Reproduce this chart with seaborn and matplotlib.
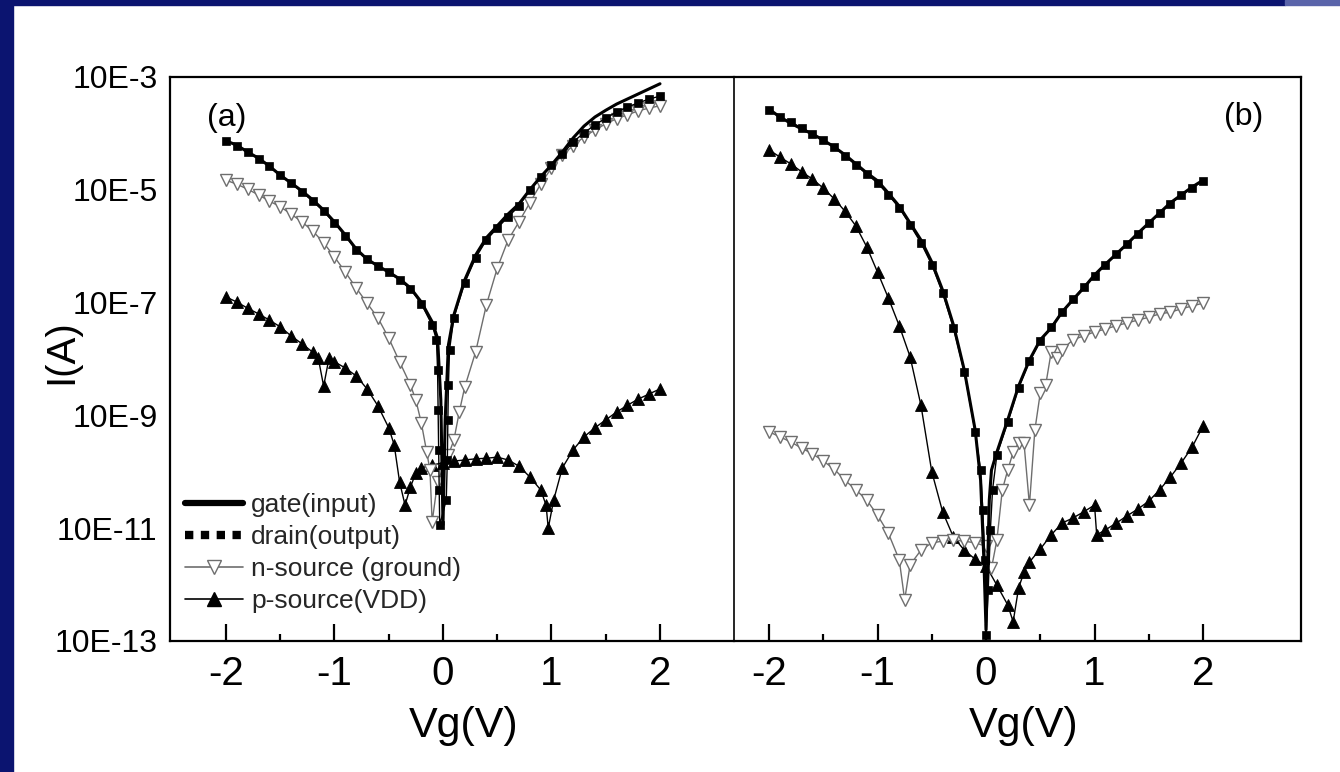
import numpy as np
import matplotlib
matplotlib.use("Agg")
import matplotlib.pyplot as plt
from matplotlib.lines import Line2D
from matplotlib.patches import Rectangle
from matplotlib.ticker import FixedLocator, FuncFormatter, NullLocator
import seaborn as sns

# ---------------- panel (a): gate sweep, currents as log10(I/A) ----------------
vg_gate_a = [-2.0, -1.9, -1.8, -1.7, -1.6, -1.5, -1.4, -1.3, -1.2, -1.1, -1.0, -0.9, -0.8, -0.7,
             -0.6, -0.5, -0.4, -0.3, -0.2, -0.1, -0.05, -0.02, 0.0, 0.02, 0.05, 0.1, 0.2, 0.3,
             0.4, 0.5, 0.6, 0.7, 0.8, 0.9, 1.0, 1.1, 1.2, 1.3, 1.4, 1.5, 1.6, 1.7, 1.8, 1.9, 2.0]
log_gate_a = [-4.13, -4.21, -4.33, -4.44, -4.58, -4.74, -4.88, -5.02, -5.18, -5.36, -5.57, -5.80,
              -6.05, -6.23, -6.35, -6.46, -6.58, -6.74, -6.99, -7.34, -7.63, -8.73, -10.94, -9.08,
              -7.75, -7.22, -6.60, -6.16, -5.85, -5.64, -5.43, -5.25, -5.00, -4.77, -4.56, -4.33,
              -4.08, -3.87, -3.71, -3.59, -3.48, -3.39, -3.30, -3.21, -3.12]

vg_drain_a = [-2.0, -1.9, -1.8, -1.7, -1.6, -1.5, -1.4, -1.3, -1.2, -1.1, -1.0, -0.9, -0.8, -0.7,
              -0.6, -0.5, -0.4, -0.3, -0.2, -0.1, -0.06, -0.05, -0.045, -0.04, -0.035, -0.03,
              0.03, 0.04, 0.045, 0.05, 0.06, 0.1, 0.2, 0.3, 0.4, 0.5, 0.6, 0.7, 0.8, 0.9, 1.0,
              1.1, 1.2, 1.3, 1.4, 1.5, 1.6, 1.7, 1.8, 1.9, 2.0]
log_drain_a = [-4.13, -4.22, -4.33, -4.45, -4.58, -4.74, -4.88, -5.04, -5.20, -5.38, -5.59, -5.82,
               -6.07, -6.23, -6.35, -6.46, -6.60, -6.76, -7.02, -7.40, -7.66, -8.20, -8.90, -9.61,
               -10.32, -10.94, -10.50, -9.79, -9.08, -8.46, -7.84, -7.27, -6.65, -6.21, -5.89,
               -5.68, -5.48, -5.29, -5.00, -4.77, -4.56, -4.37, -4.15, -3.99, -3.85, -3.73, -3.62,
               -3.53, -3.46, -3.39, -3.34]

vg_nsrc_a = [-2.0, -1.9, -1.8, -1.7, -1.6, -1.5, -1.4, -1.3, -1.2, -1.1, -1.0, -0.9, -0.8, -0.7,
             -0.6, -0.5, -0.4, -0.3, -0.25, -0.2, -0.15, -0.12, -0.1, -0.05, 0.05, 0.1, 0.15,
             0.2, 0.3, 0.4, 0.5, 0.6, 0.7, 0.8, 0.9, 1.0, 1.1, 1.2, 1.3, 1.4, 1.5, 1.6, 1.7,
             1.8, 1.9, 2.0]
log_nsrc_a = [-4.83, -4.90, -4.99, -5.09, -5.20, -5.30, -5.43, -5.57, -5.73, -5.94, -6.19, -6.46,
              -6.74, -7.01, -7.27, -7.63, -8.05, -8.46, -8.73, -9.13, -9.65, -9.97, -10.89,
              -10.18, -9.70, -9.44, -8.94, -8.50, -7.88, -7.04, -6.39, -5.89, -5.57, -5.23,
              -4.90, -4.61, -4.38, -4.22, -4.06, -3.94, -3.83, -3.74, -3.67, -3.60, -3.55, -3.51]

vg_psrc_a = [-2.0, -1.9, -1.8, -1.7, -1.6, -1.5, -1.4, -1.3, -1.2, -1.15, -1.1, -1.05, -1.0, -0.9,
             -0.8, -0.7, -0.6, -0.5, -0.45, -0.4, -0.35, -0.3, -0.25, -0.2, -0.1, 0.0, 0.1, 0.2,
             0.3, 0.4, 0.5, 0.6, 0.7, 0.8, 0.9, 0.95, 0.97, 1.02, 1.1, 1.2, 1.3, 1.4, 1.5, 1.6,
             1.7, 1.8, 1.9, 2.0]
log_psrc_a = [-6.90, -6.99, -7.10, -7.20, -7.31, -7.43, -7.59, -7.73, -7.88, -7.98, -8.48, -7.98,
              -8.05, -8.16, -8.30, -8.53, -8.83, -9.22, -9.52, -10.18, -10.59, -10.27, -10.02,
              -9.93, -9.88, -9.84, -9.81, -9.79, -9.77, -9.76, -9.74, -9.79, -9.90, -10.09,
              -10.32, -10.59, -11.00, -10.50, -9.93, -9.61, -9.38, -9.22, -9.08, -8.94, -8.82,
              -8.71, -8.62, -8.53]

# ---------------- panel (b) ----------------
vg_gate_b = [-2.0, -1.9, -1.8, -1.7, -1.6, -1.5, -1.4, -1.3, -1.2, -1.1, -1.0, -0.9, -0.8, -0.7,
             -0.6, -0.5, -0.4, -0.3, -0.2, -0.1, -0.05, -0.02, 0.0, 0.03, 0.05, 0.1, 0.2, 0.3,
             0.4, 0.5, 0.6, 0.7, 0.8, 0.9, 1.0, 1.1, 1.2, 1.3, 1.4, 1.5, 1.6, 1.7, 1.8, 1.9, 2.0]
log_gate_b = [-3.57, -3.71, -3.82, -3.92, -4.01, -4.12, -4.24, -4.38, -4.54, -4.70, -4.84, -5.06,
              -5.29, -5.59, -5.89, -6.28, -6.78, -7.40, -8.20, -9.26, -10.15, -11.56, -12.80,
              -10.50, -9.97, -9.65, -9.08, -8.48, -8.02, -7.66, -7.45, -7.17, -6.95, -6.74,
              -6.51, -6.32, -6.14, -5.96, -5.77, -5.59, -5.41, -5.23, -5.09, -4.95, -4.83]

vg_drain_b = [-2.0, -1.9, -1.8, -1.7, -1.6, -1.5, -1.4, -1.3, -1.2, -1.1, -1.0, -0.9, -0.8, -0.7,
              -0.6, -0.5, -0.4, -0.3, -0.2, -0.1, -0.05, -0.03, -0.01, 0.0, 0.02, 0.04, 0.06,
              0.1, 0.2, 0.3, 0.4, 0.5, 0.6, 0.7, 0.8, 0.9, 1.0, 1.1, 1.2, 1.3, 1.4, 1.5, 1.6,
              1.7, 1.8, 1.9, 2.0]
log_drain_b = [-3.59, -3.71, -3.80, -3.90, -4.01, -4.12, -4.24, -4.40, -4.56, -4.72, -4.88, -5.09,
               -5.32, -5.62, -5.94, -6.33, -6.83, -7.45, -8.23, -9.29, -9.97, -10.68, -11.56,
               -12.89, -12.10, -11.03, -10.32, -9.70, -9.12, -8.51, -8.04, -7.68, -7.43, -7.17,
               -6.94, -6.72, -6.53, -6.33, -6.14, -5.96, -5.78, -5.59, -5.41, -5.25, -5.09,
               -4.97, -4.84]

vg_nsrc_b = [-2.0, -1.9, -1.8, -1.7, -1.6, -1.5, -1.4, -1.3, -1.2, -1.1, -1.0, -0.9, -0.8, -0.75,
             -0.7, -0.6, -0.5, -0.4, -0.3, -0.2, -0.1, 0.0, 0.05, 0.1, 0.15, 0.2, 0.25, 0.3,
             0.35, 0.4, 0.45, 0.5, 0.55, 0.6, 0.65, 0.7, 0.8, 0.9, 1.0, 1.1, 1.2, 1.3, 1.4,
             1.5, 1.6, 1.7, 1.8, 1.9, 2.0]
log_nsrc_b = [-9.29, -9.38, -9.47, -9.58, -9.68, -9.81, -9.95, -10.15, -10.32, -10.50, -10.77,
              -11.09, -11.56, -12.27, -11.65, -11.39, -11.26, -11.23, -11.21, -11.23, -11.26,
              -11.32, -11.71, -11.21, -10.32, -9.97, -9.65, -9.49, -9.49, -10.59, -9.26, -8.60,
              -8.46, -7.88, -7.98, -7.84, -7.66, -7.59, -7.52, -7.47, -7.41, -7.36, -7.31,
              -7.26, -7.20, -7.17, -7.11, -7.06, -7.01]

vg_psrc_b = [-2.0, -1.9, -1.8, -1.7, -1.6, -1.5, -1.4, -1.3, -1.2, -1.1, -1.0, -0.9, -0.8, -0.7,
             -0.6, -0.5, -0.4, -0.3, -0.2, -0.1, 0.0, 0.1, 0.2, 0.25, 0.3, 0.35, 0.4, 0.5, 0.6,
             0.7, 0.8, 0.9, 1.0, 1.02, 1.1, 1.2, 1.3, 1.4, 1.5, 1.6, 1.7, 1.8, 1.9, 2.0]
log_psrc_b = [-4.29, -4.42, -4.54, -4.68, -4.81, -4.97, -5.16, -5.38, -5.64, -6.01, -6.46, -6.92,
              -7.41, -7.96, -8.82, -10.00, -10.71, -11.16, -11.39, -11.55, -11.67, -12.01,
              -12.36, -12.66, -12.06, -11.78, -11.60, -11.37, -11.12, -10.91, -10.82, -10.71,
              -10.59, -11.12, -11.03, -10.91, -10.78, -10.66, -10.52, -10.32, -10.09, -9.84,
              -9.56, -9.19]

legend_labels = ["gate(input)", "drain(output)", "n-source (ground)", "p-source(VDD)"]
panel_tags = ["(a)", "(b)"]
x_major = [-2, -1, 0, 1, 2]
x_minor = [-1.5, -0.5, 0.5, 1.5]
y_ticks = [1e-3, 1e-5, 1e-7, 1e-9, 1e-11, 1e-13]

# ---------------- styling ----------------
sns.set_theme(style="white")
plt.rcParams["font.family"] = ["Liberation Sans", "DejaVu Sans"]
plt.rcParams["axes.linewidth"] = 1.6

NAVY = "#0b1470"
GRAY = "#6e6e6e"

fig = plt.figure(figsize=(13.4, 7.72), dpi=100, facecolor="white")
W, H = 1340.0, 772.0
ax_a = fig.add_axes([170 / W, 1 - 641 / H, 564 / W, 564 / H])
ax_b = fig.add_axes([734 / W, 1 - 641 / H, 567 / W, 564 / H], sharey=ax_a)

# slide frame
fig.add_artist(Rectangle((0, 0), 13 / W, 1, transform=fig.transFigure, color=NAVY, zorder=-5))
fig.add_artist(Rectangle((0, 1 - 5 / H), 1285 / W, 5 / H, transform=fig.transFigure,
                         color=NAVY, zorder=-5))
fig.add_artist(Rectangle((1285 / W, 1 - 5 / H), 55 / W, 5 / H, transform=fig.transFigure,
                         color="#5a64aa", zorder=-5))


def draw_panel(ax, vg_g, lg_g, vg_d, lg_d, vg_n, lg_n, vg_p, lg_p):
    ax.set_yscale("log")
    common = dict(ax=ax, estimator=None, sort=False, legend=False)
    sns.lineplot(x=vg_p, y=10.0 ** np.asarray(lg_p), color="black", lw=1.0, marker="^",
                 markersize=8.5, markerfacecolor="black", markeredgecolor="black",
                 markeredgewidth=0.6, zorder=3, **common)
    sns.lineplot(x=vg_n, y=10.0 ** np.asarray(lg_n), color=GRAY, lw=1.0, marker="v",
                 markersize=8.5, markerfacecolor="white", markeredgecolor=GRAY,
                 markeredgewidth=1.0, zorder=4, **common)
    sns.lineplot(x=vg_d, y=10.0 ** np.asarray(lg_d), color="black", lw=1.0, marker="s",
                 markersize=6, markerfacecolor="black", markeredgecolor="black",
                 markeredgewidth=0.5, zorder=5, **common)
    sns.lineplot(x=vg_g, y=10.0 ** np.asarray(lg_g), color="black", lw=2.2, zorder=6, **common)


draw_panel(ax_a, vg_gate_a, log_gate_a, vg_drain_a, log_drain_a,
           vg_nsrc_a, log_nsrc_a, vg_psrc_a, log_psrc_a)
draw_panel(ax_b, vg_gate_b, log_gate_b, vg_drain_b, log_drain_b,
           vg_nsrc_b, log_nsrc_b, vg_psrc_b, log_psrc_b)

ax_a.set_xlim(-2.516, 2.682)
ax_b.set_xlim(-2.323, 2.903)
ax_a.set_ylim(1e-13, 1e-3)

for ax in (ax_a, ax_b):
    ax.set_facecolor("white")
    ax.grid(False)
    ax.xaxis.set_major_locator(FixedLocator(x_major))
    ax.xaxis.set_minor_locator(FixedLocator(x_minor))
    ax.xaxis.set_major_formatter(FuncFormatter(lambda v, p: f"{int(round(v))}"))
    ax.tick_params(axis="x", which="major", direction="in", length=12, width=1.6,
                   labelsize=29, pad=10, colors="black", bottom=True)
    ax.tick_params(axis="x", which="minor", direction="in", length=5, width=1.6,
                   colors="black", bottom=True)
    ax.set_xlabel("Vg(V)", fontsize=31, color="black")
    for s in ax.spines.values():
        s.set_color("black")

ax_a.yaxis.set_major_locator(FixedLocator(y_ticks))
ax_a.yaxis.set_minor_locator(NullLocator())
ax_a.yaxis.set_major_formatter(FuncFormatter(lambda v, p: f"10E{int(round(np.log10(v)))}"))
ax_a.tick_params(axis="y", which="both", length=0, labelsize=23, pad=9, colors="black")
ax_b.tick_params(axis="y", which="both", length=0, labelleft=False)

# a single thin divider between the two panels
ax_a.spines["right"].set_visible(False)
ax_b.spines["left"].set_linewidth(1.2)

ax_a.set_ylabel("I(A)", fontsize=29, color="black")
ax_a.yaxis.set_label_coords(-0.16, 0.513)
ax_a.xaxis.set_label_coords(0.52, -0.115)
ax_b.xaxis.set_label_coords(0.51, -0.115)

ax_a.text(0.101, 0.927, panel_tags[0], transform=ax_a.transAxes, fontsize=23,
          ha="center", va="center", color="black")
ax_b.text(0.898, 0.929, panel_tags[1], transform=ax_b.transAxes, fontsize=23,
          ha="center", va="center", color="black")

handles = [
    Line2D([], [], color="black", lw=4.5),
    Line2D([], [], color="black", lw=6, linestyle=(0, (1.0, 0.9))),
    Line2D([], [], color=GRAY, lw=1.2, marker="v", markersize=10,
           markerfacecolor="white", markeredgecolor=GRAY),
    Line2D([], [], color="black", lw=1.2, marker="^", markersize=10,
           markerfacecolor="black", markeredgecolor="black"),
]
ax_a.legend(handles, legend_labels, loc="lower left", bbox_to_anchor=(0.027, 0.05),
            frameon=False, fontsize=19, handlelength=2.2, handletextpad=0.3,
            labelspacing=0.3, borderpad=0.0, borderaxespad=0.0)

fig.savefig("out.png", dpi=100, facecolor="white")
